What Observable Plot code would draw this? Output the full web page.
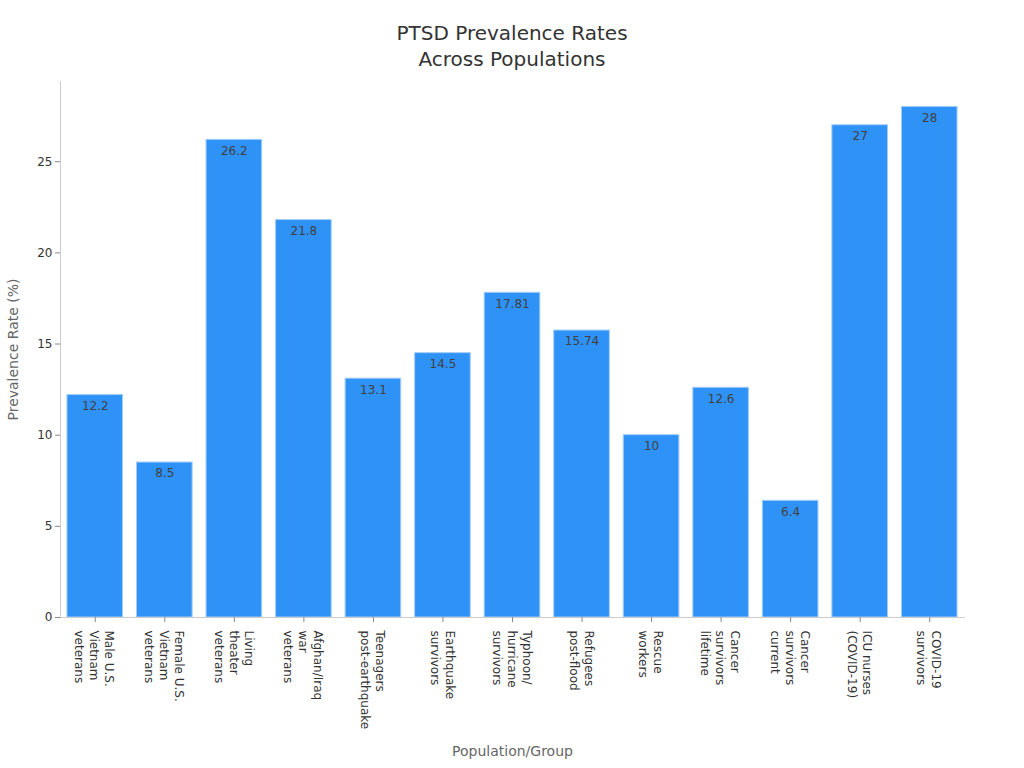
<!DOCTYPE html>
<html>
<head>
<meta charset="utf-8">
<script src="https://cdn.jsdelivr.net/npm/d3@7"></script>
<script src="https://cdn.jsdelivr.net/npm/@observablehq/plot@0.6"></script>
<style>
  html, body { margin: 0; padding: 0; background: #fff; }
  body { width: 1024px; height: 768px; overflow: hidden; font-family: "DejaVu Sans", sans-serif; }
  #title { height: 70px; box-sizing: border-box; padding-top: 20px; text-align: center;
           font-size: 20px; line-height: 26px; color: #333; }
  #chart svg { display: block; }
</style>
</head>
<body>
<div id="title">PTSD Prevalence Rates<br>Across Populations</div>
<div id="chart"></div>
<script>
// Population groups, their PTSD prevalence (%) and the wrapped axis labels
const groups = [
  "Male U.S. Vietnam veterans",
  "Female U.S. Vietnam veterans",
  "Living theater veterans",
  "Afghan/Iraq war veterans",
  "Teenagers post-earthquake",
  "Earthquake survivors",
  "Typhoon/hurricane survivors",
  "Refugees post-flood",
  "Rescue workers",
  "Cancer survivors lifetime",
  "Cancer survivors current",
  "ICU nurses (COVID-19)",
  "COVID-19 survivors"
];
const prevalence = [12.2, 8.5, 26.2, 21.8, 13.1, 14.5, 17.81, 15.74, 10, 12.6, 6.4, 27, 28];
const tickLabels = [
  "Male U.S.\nVietnam\nveterans",
  "Female U.S.\nVietnam\nveterans",
  "Living\ntheater\nveterans",
  "Afghan/Iraq\nwar\nveterans",
  "Teenagers\npost-earthquake",
  "Earthquake\nsurvivors",
  "Typhoon/\nhurricane\nsurvivors",
  "Refugees\npost-flood",
  "Rescue\nworkers",
  "Cancer\nsurvivors\nlifetime",
  "Cancer\nsurvivors\ncurrent",
  "ICU nurses\n(COVID-19)",
  "COVID-19\nsurvivors"
];
const yTicks = [0, 5, 10, 15, 20, 25];

const data = groups.map((g, i) => ({group: g, value: prevalence[i]}));
const labelOf = new Map(groups.map((g, i) => [g, tickLabels[i]]));

const chart = Plot.plot({
  width: 1024,
  height: 698,
  marginTop: 11,
  marginRight: 60,
  marginBottom: 151,
  marginLeft: 60,
  style: {fontFamily: "DejaVu Sans, sans-serif", fontSize: "12px", color: "#333", background: "#fff"},
  x: {domain: groups, paddingInner: 0.2, paddingOuter: 0.1, round: false},
  y: {domain: [0, 29.4]},
  marks: [
    Plot.barY(data, {x: "group", y: "value", fill: "#2f92f6", stroke: "#a3cdf8", strokeWidth: 1}),
    Plot.text(data, {x: "group", y: "value", text: (d) => String(d.value), dy: 11, lineAnchor: "middle", fill: "#404040", fontSize: 12}),
    Plot.frame({anchor: "left", stroke: "#ccc"}),
    Plot.frame({anchor: "bottom", stroke: "#ccc"}),
    Plot.axisY({ticks: yTicks, tickSize: 5, tickPadding: 3, stroke: "#888", fill: "#333", label: null}),
    Plot.axisX({tickRotate: 90, tickSize: 5, tickPadding: 8, lineHeight: 1.25, stroke: "#888", fill: "#333",
                tickFormat: (d) => labelOf.get(d), label: null}),
    Plot.text(["Population/Group"], {frameAnchor: "bottom", dy: 134, textAnchor: "middle", lineAnchor: "middle", fill: "#666", fontSize: 14}),
    Plot.text(["Prevalence Rate (%)"], {frameAnchor: "left", dx: -47, rotate: -90, textAnchor: "middle", lineAnchor: "middle", fill: "#666", fontSize: 14})
  ]
});
document.getElementById("chart").appendChild(chart);
</script>
</body>
</html>
